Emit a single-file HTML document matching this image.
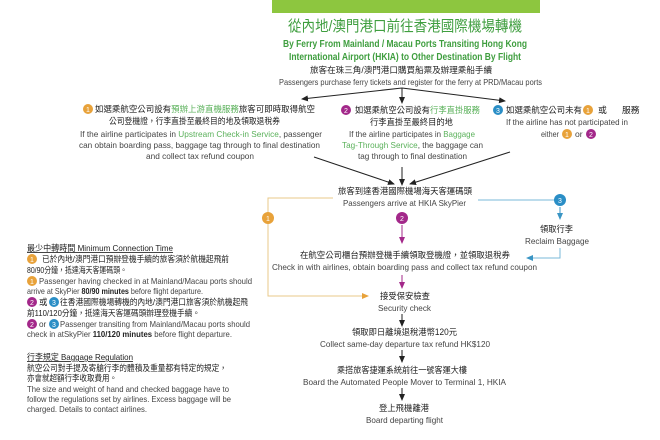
<!DOCTYPE html>
<html><head><meta charset="utf-8"><style>
html,body{margin:0;padding:0;background:#fff;}
svg{display:block;}
text{font-family:"Liberation Sans","Noto Sans CJK TC",sans-serif;fill:#333;}
.c{text-anchor:middle;}
.cn{font-size:8.8px;fill:#222;}
.en{font-size:8.6px;fill:#444;}
.g{fill:#5bb15b;}
.n{font-size:8.2px;fill:#444;}
.nc{font-size:8.4px;fill:#222;}
</style></head><body>
<svg width="660" height="440" viewBox="0 0 660 440" xmlns="http://www.w3.org/2000/svg">
<defs>
<marker id="ak" markerWidth="8" markerHeight="8" refX="6" refY="3" orient="auto" markerUnits="userSpaceOnUse"><path d="M0,0 L7,3 L0,6 z" fill="#222"/></marker>
<marker id="ao" markerWidth="8" markerHeight="8" refX="6" refY="3" orient="auto" markerUnits="userSpaceOnUse"><path d="M0,0 L7,3 L0,6 z" fill="#e8a23a"/></marker>
<marker id="am" markerWidth="8" markerHeight="8" refX="6" refY="3" orient="auto" markerUnits="userSpaceOnUse"><path d="M0,0 L7,3 L0,6 z" fill="#a3288a"/></marker>
<marker id="ab" markerWidth="8" markerHeight="8" refX="6" refY="3" orient="auto" markerUnits="userSpaceOnUse"><path d="M0,0 L7,3 L0,6 z" fill="#3a95c4"/></marker>
</defs>
<rect x="272" y="0" width="268" height="13" fill="#8dc63f"/>
<text x="288" y="31" style="font-size:15px;fill:#3f9e3f;" textLength="234" lengthAdjust="spacingAndGlyphs">從內地/澳門港口前往香港國際機場轉機</text>
<text x="283" y="47" style="font-size:10px;font-weight:bold;fill:#3f9e3f;" textLength="244" lengthAdjust="spacingAndGlyphs">By Ferry From Mainland / Macau Ports Transiting Hong Kong</text>
<text x="289" y="60" style="font-size:10px;font-weight:bold;fill:#3f9e3f;" textLength="232" lengthAdjust="spacingAndGlyphs">International Airport (HKIA) to Other Destination By Flight</text>
<text x="310" y="73" class="cn" textLength="182" lengthAdjust="spacingAndGlyphs">旅客在珠三角/澳門港口購買船票及辦理乘船手續</text>
<text x="279" y="85" class="en" textLength="263" lengthAdjust="spacingAndGlyphs">Passengers purchase ferry tickets and register for the ferry at PRD/Macau ports</text>

<g stroke="#222" stroke-width="1" fill="none">
<line x1="402" y1="88" x2="302" y2="99" marker-end="url(#ak)"/>
<line x1="402" y1="88" x2="402" y2="103" marker-end="url(#ak)"/>
<line x1="402" y1="88" x2="505" y2="101" marker-end="url(#ak)"/>
<line x1="314" y1="157" x2="394" y2="184" marker-end="url(#ak)"/>
<line x1="402" y1="167" x2="402" y2="185" marker-end="url(#ak)"/>
<line x1="510" y1="152" x2="410" y2="184" marker-end="url(#ak)"/>
</g>

<!-- block 1 -->
<circle cx="88" cy="109" r="5" fill="#e8a23a"/><text x="88" y="112" class="c" style="font-size:7px;fill:#fff;">1</text>
<text x="95" y="112" class="cn" textLength="220" lengthAdjust="spacingAndGlyphs">如選乘航空公司設有<tspan class="g">預辦上游直機服務</tspan>旅客可即時取得航空</text>
<text x="109" y="124" class="cn" textLength="171" lengthAdjust="spacingAndGlyphs">公司登機證，行李直掛至最終目的地及領取退稅券</text>
<text x="80" y="137" class="en" textLength="242" lengthAdjust="spacingAndGlyphs">If the airline participates in <tspan class="g">Upstream Check-in Service</tspan>, passenger</text>
<text x="79" y="148" class="en" textLength="241" lengthAdjust="spacingAndGlyphs">can obtain boarding pass, baggage tag through to final destination</text>
<text x="146" y="159" class="en" textLength="108" lengthAdjust="spacingAndGlyphs">and collect tax refund coupon</text>

<!-- block 2 -->
<circle cx="346" cy="110" r="5" fill="#a3288a"/><text x="346" y="113" class="c" style="font-size:7px;fill:#fff;">2</text>
<text x="355" y="113" class="cn" textLength="125" lengthAdjust="spacingAndGlyphs">如選乘航空公司設有<tspan class="g">行李直掛服務</tspan></text>
<text x="370" y="125" class="cn" textLength="83" lengthAdjust="spacingAndGlyphs">行李直掛至最終目的地</text>
<text x="349" y="137" class="en" textLength="126" lengthAdjust="spacingAndGlyphs">If the airline participates in <tspan class="g">Baggage</tspan></text>
<text x="342" y="148" class="en" textLength="141" lengthAdjust="spacingAndGlyphs"><tspan class="g">Tag-Through Service</tspan>, the baggage can</text>
<text x="358" y="159" class="en" textLength="109" lengthAdjust="spacingAndGlyphs">tag through to final destination</text>

<!-- block 3 -->
<circle cx="498" cy="110" r="5" fill="#2a8ec6"/><text x="498" y="113" class="c" style="font-size:7px;fill:#fff;">3</text>
<text x="506" y="113" class="cn" textLength="76" lengthAdjust="spacingAndGlyphs">如選乘航空公司未有</text>
<circle cx="588" cy="110" r="5" fill="#e8a23a"/><text x="588" y="113" class="c" style="font-size:7px;fill:#fff;">1</text>
<text x="598" y="113" class="cn">或</text>
<text x="622" y="113" class="cn">服務</text>
<text x="506" y="125" class="en" textLength="122" lengthAdjust="spacingAndGlyphs">If the airline has not participated in</text>
<text x="541" y="137" class="en" textLength="18" lengthAdjust="spacingAndGlyphs">either</text>
<circle cx="567" cy="134" r="5" fill="#e8a23a"/><text x="567" y="137" class="c" style="font-size:7px;fill:#fff;">1</text>
<text x="575" y="137" class="en">or</text>
<circle cx="591" cy="134" r="5" fill="#a3288a"/><text x="591" y="137" class="c" style="font-size:7px;fill:#fff;">2</text>

<text x="338" y="194" class="cn" textLength="134" lengthAdjust="spacingAndGlyphs">旅客到達香港國際機場海天客運碼頭</text>
<text x="343" y="206" class="en" textLength="123" lengthAdjust="spacingAndGlyphs">Passengers arrive at HKIA SkyPier</text>

<!-- orange path -->
<polyline points="333,198 268,198 268,296 368,296" fill="none" stroke="#e8c98a" stroke-width="1" marker-end="url(#ao)"/>
<circle cx="268" cy="218" r="6" fill="#e8a23a"/><text x="268" y="221" class="c" style="font-size:7px;fill:#fff;">1</text>

<!-- magenta -->
<circle cx="402" cy="218" r="6" fill="#a3288a"/><text x="402" y="221" class="c" style="font-size:7px;fill:#fff;">2</text>
<line x1="402" y1="225" x2="402" y2="243" stroke="#a3288a" marker-end="url(#am)"/>
<line x1="402" y1="275" x2="402" y2="288" stroke="#a3288a" marker-end="url(#am)"/>

<!-- blue -->
<polyline points="478,200 556,200" fill="none" stroke="#7ab8d8"/>
<circle cx="560" cy="200" r="6" fill="#2a8ec6"/><text x="560" y="203" class="c" style="font-size:7px;fill:#fff;">3</text>
<line x1="560" y1="207" x2="560" y2="219" stroke="#3a95c4" marker-end="url(#ab)"/>
<text x="540" y="232" class="cn" textLength="33" lengthAdjust="spacingAndGlyphs">領取行李</text>
<text x="525" y="244" class="en" textLength="64" lengthAdjust="spacingAndGlyphs">Reclaim Baggage</text>
<polyline points="560,248 560,258 527,258" fill="none" stroke="#7ab8d8" marker-end="url(#ab)"/>

<text x="300" y="258" class="cn" textLength="210" lengthAdjust="spacingAndGlyphs">在航空公司櫃台預辦登機手續領取登機證，並領取退稅券</text>
<text x="272" y="270" class="en" textLength="265" lengthAdjust="spacingAndGlyphs">Check in with airlines, obtain boarding pass and collect tax refund coupon</text>

<text x="380" y="299" class="cn" textLength="50" lengthAdjust="spacingAndGlyphs">接受保安檢查</text>
<text x="378" y="311" class="en" textLength="53" lengthAdjust="spacingAndGlyphs">Security check</text>
<line x1="402" y1="314" x2="402" y2="326" stroke="#222" marker-end="url(#ak)"/>
<text x="352" y="335" class="cn" textLength="105" lengthAdjust="spacingAndGlyphs">領取即日離境退稅港幣120元</text>
<text x="320" y="347" class="en" textLength="170" lengthAdjust="spacingAndGlyphs">Collect same-day departure tax refund HK$120</text>
<line x1="402" y1="350" x2="402" y2="362" stroke="#222" marker-end="url(#ak)"/>
<text x="337" y="373" class="cn" textLength="130" lengthAdjust="spacingAndGlyphs">乘搭旅客捷運系統前往一號客運大樓</text>
<text x="303" y="385" class="en" textLength="203" lengthAdjust="spacingAndGlyphs">Board the Automated People Mover to Terminal 1, HKIA</text>
<line x1="402" y1="388" x2="402" y2="400" stroke="#222" marker-end="url(#ak)"/>
<text x="379" y="411" class="cn" textLength="50" lengthAdjust="spacingAndGlyphs">登上飛機離港</text>
<text x="366" y="423" class="en" textLength="77" lengthAdjust="spacingAndGlyphs">Board departing flight</text>

<!-- notes -->
<text x="27" y="251" class="nc" text-decoration="underline" textLength="146" lengthAdjust="spacingAndGlyphs">最少中轉時間  Minimum Connection Time</text>
<circle cx="32" cy="259" r="5" fill="#e8a23a"/><text x="32" y="262" class="c" style="font-size:7px;fill:#fff;">1</text>
<text x="42" y="262" class="nc" textLength="187" lengthAdjust="spacingAndGlyphs">已於內地/澳門港口預辦登機手續的旅客須於航機起飛前</text>
<text x="27" y="273" class="nc" textLength="100" lengthAdjust="spacingAndGlyphs">80/90分鐘，抵達海天客運碼頭。</text>
<circle cx="32" cy="281" r="5" fill="#e8a23a"/><text x="32" y="284" class="c" style="font-size:7px;fill:#fff;">1</text>
<text x="39" y="284" class="n" textLength="213" lengthAdjust="spacingAndGlyphs">Passenger having checked in at Mainland/Macau ports should</text>
<text x="27" y="294" class="n" textLength="176" lengthAdjust="spacingAndGlyphs">arrive at SkyPier <tspan font-weight="bold" fill="#222">80/90 minutes</tspan> before flight departure.</text>
<circle cx="32" cy="302" r="5" fill="#a3288a"/><text x="32" y="305" class="c" style="font-size:7px;fill:#fff;">2</text>
<text x="39" y="305" class="nc">或</text>
<circle cx="54" cy="302" r="5" fill="#2a8ec6"/><text x="54" y="305" class="c" style="font-size:7px;fill:#fff;">3</text>
<text x="60" y="305" class="nc" textLength="188" lengthAdjust="spacingAndGlyphs">往香港國際機場轉機的內地/澳門港口旅客須於航機起飛</text>
<text x="27" y="316" class="nc" textLength="173" lengthAdjust="spacingAndGlyphs">前110/120分鐘，抵達海天客運碼頭辦理登機手續。</text>
<circle cx="32" cy="324" r="5" fill="#a3288a"/><text x="32" y="327" class="c" style="font-size:7px;fill:#fff;">2</text>
<text x="39" y="327" class="n">or</text>
<circle cx="54" cy="324" r="5" fill="#2a8ec6"/><text x="54" y="327" class="c" style="font-size:7px;fill:#fff;">3</text>
<text x="60" y="327" class="n" textLength="190" lengthAdjust="spacingAndGlyphs">Passenger transiting from Mainland/Macau ports should</text>
<text x="27" y="337" class="n" textLength="205" lengthAdjust="spacingAndGlyphs">check in atSkyPier <tspan font-weight="bold" fill="#222">110/120 minutes</tspan> before flight departure.</text>

<text x="27" y="360" class="nc" text-decoration="underline" textLength="106" lengthAdjust="spacingAndGlyphs">行李規定 Baggage Regulation</text>
<text x="27" y="371" class="nc" textLength="200" lengthAdjust="spacingAndGlyphs">航空公司對手提及寄艙行李的體積及重量都有特定的規定，</text>
<text x="27" y="381" class="nc" textLength="90" lengthAdjust="spacingAndGlyphs">亦會就超額行李收取費用。</text>
<text x="27" y="392" class="n" textLength="202" lengthAdjust="spacingAndGlyphs">The size and weight of hand and checked baggage have to</text>
<text x="27" y="402" class="n" textLength="204" lengthAdjust="spacingAndGlyphs">follow the regulations set by airlines. Excess baggage will be</text>
<text x="27" y="412" class="n" textLength="120" lengthAdjust="spacingAndGlyphs">charged. Details to contact airlines.</text>
</svg>
</body></html>
